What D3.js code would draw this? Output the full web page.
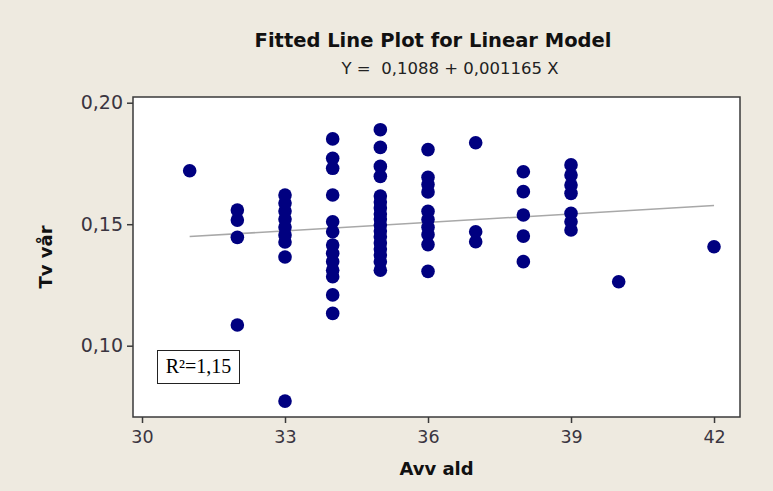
<!DOCTYPE html>
<html>
<head>
<meta charset="utf-8">
<script src="https://cdn.jsdelivr.net/npm/d3@7"></script>
<style>
  html, body { margin: 0; padding: 0; background: #EEEAE0; }
  svg { display: block; }
</style>
</head>
<body>
<script>
// ---- data ----
const avvAld = [
  31,
  32, 32, 32, 32,
  33, 33, 33, 33, 33, 33, 33, 33, 33,
  34, 34, 34, 34, 34, 34, 34, 34, 34, 34, 34, 34, 34,
  35, 35, 35, 35, 35, 35, 35, 35, 35, 35, 35, 35, 35, 35, 35, 35, 35,
  36, 36, 36, 36, 36, 36, 36, 36, 36, 36,
  37, 37, 37,
  38, 38, 38, 38, 38,
  39, 39, 39, 39, 39, 39, 39,
  40,
  42
];
const tvVar = [
  0.1720,
  0.1558, 0.1517, 0.1446, 0.1085,
  0.1620, 0.1587, 0.1554, 0.1521, 0.1488, 0.1456, 0.1427, 0.1365, 0.0772,
  0.1851, 0.1771, 0.1730, 0.1620, 0.1510, 0.1469, 0.1414, 0.1380, 0.1346, 0.1311, 0.1284, 0.1209, 0.1133,
  0.1889, 0.1816, 0.1738, 0.1697, 0.1616, 0.1591, 0.1567, 0.1542, 0.1521, 0.1497, 0.1472, 0.1448, 0.1423, 0.1398, 0.1373, 0.1345, 0.1311,
  0.1807, 0.1693, 0.1663, 0.1633, 0.1553, 0.1519, 0.1487, 0.1457, 0.1416, 0.1306,
  0.1835, 0.1469, 0.1428,
  0.1716, 0.1634, 0.1538, 0.1451, 0.1346,
  0.1744, 0.1702, 0.1661, 0.1627, 0.1545, 0.1510, 0.1476,
  0.1263,
  0.1407
];
const xTicks = [30, 33, 36, 39, 42];
const yTicks = [0.10, 0.15, 0.20];
const fitIntercept = 0.1088;
const fitSlope = 0.001165;
const fitRange = [31, 42];
const titleText = "Fitted Line Plot for Linear Model";
const subtitleText = "Y =  0,1088 + 0,001165 X";
const xTitle = "Avv ald";
const yTitle = "Tv vår";
const r2Text = "R²=1,15";

// ---- layout ----
const W = 773, H = 491;
const plot = { left: 133, right: 740, top: 97, bottom: 417 };
const comma = d3.formatLocale({ decimal: ",", thousands: ".", grouping: [3], currency: ["", ""] });

const svg = d3.select("body").append("svg").attr("width", W).attr("height", H);
svg.append("rect").attr("width", W).attr("height", H).attr("fill", "#EEEAE0");

const x = d3.scaleLinear().domain([29.811, 42.545]).range([plot.left, plot.right]);
const y = d3.scaleLinear().domain([0.07066, 0.20235]).range([plot.bottom, plot.top]);

// plot area
svg.append("rect")
  .attr("x", plot.left).attr("y", plot.top)
  .attr("width", plot.right - plot.left).attr("height", plot.bottom - plot.top)
  .attr("fill", "#FFFFFF");

// fitted line
svg.append("line")
  .attr("x1", x(fitRange[0])).attr("y1", y(fitIntercept + fitSlope * fitRange[0]))
  .attr("x2", x(fitRange[1])).attr("y2", y(fitIntercept + fitSlope * fitRange[1]))
  .attr("stroke", "#A8A8A8").attr("stroke-width", 1.5);

// points
svg.append("g").selectAll("circle")
  .data(d3.range(avvAld.length))
  .join("circle")
  .attr("cx", i => x(avvAld[i]))
  .attr("cy", i => y(tvVar[i]))
  .attr("r", 6.8)
  .attr("fill", "#000080");

// frame
svg.append("rect")
  .attr("x", plot.left).attr("y", plot.top)
  .attr("width", plot.right - plot.left).attr("height", plot.bottom - plot.top)
  .attr("fill", "none").attr("stroke", "#3a3a3a").attr("stroke-width", 1.5);

const tickFont = "'DejaVu Sans', Verdana, sans-serif";

// x axis
const xAxis = svg.append("g")
  .attr("transform", `translate(0,${plot.bottom})`)
  .call(d3.axisBottom(x).tickValues(xTicks).tickSize(6).tickPadding(8).tickFormat(d3.format("d")));
xAxis.select(".domain").remove();
xAxis.selectAll("line").attr("stroke", "#3a3a3a").attr("stroke-width", 1.5);
xAxis.selectAll("text").attr("font-family", tickFont).attr("font-size", 17.5).attr("fill", "#3a3540");

// y axis
const yAxis = svg.append("g")
  .attr("transform", `translate(${plot.left},0)`)
  .call(d3.axisLeft(y).tickValues(yTicks).tickSize(6).tickPadding(4).tickFormat(comma.format(".2f")));
yAxis.select(".domain").remove();
yAxis.selectAll("line").attr("stroke", "#3a3a3a").attr("stroke-width", 1.5);
yAxis.selectAll("text").attr("font-family", tickFont).attr("font-size", 19).attr("fill", "#3a3540");

// titles
svg.append("text")
  .attr("x", 433).attr("y", 47)
  .attr("text-anchor", "middle")
  .attr("font-family", tickFont).attr("font-weight", "bold").attr("font-size", 19.5)
  .attr("fill", "#111")
  .text(titleText);
svg.append("text")
  .attr("x", 450).attr("y", 74)
  .attr("text-anchor", "middle")
  .attr("font-family", tickFont).attr("font-size", 16.5)
  .attr("fill", "#222")
  .style("white-space", "pre")
  .text(subtitleText);

svg.append("text")
  .attr("x", (plot.left + plot.right) / 2).attr("y", 475)
  .attr("text-anchor", "middle")
  .attr("font-family", tickFont).attr("font-weight", "bold").attr("font-size", 18)
  .attr("fill", "#111")
  .text(xTitle);
svg.append("text")
  .attr("transform", `translate(52,${(plot.top + plot.bottom) / 2}) rotate(-90)`)
  .attr("text-anchor", "middle")
  .attr("font-family", tickFont).attr("font-weight", "bold").attr("font-size", 18)
  .attr("fill", "#111")
  .text(yTitle);

// R² box
svg.append("rect")
  .attr("x", 157.5).attr("y", 350.5).attr("width", 82).attr("height", 33)
  .attr("fill", "#FFFFFF").attr("stroke", "#222").attr("stroke-width", 1);
svg.append("text")
  .attr("x", 198.5).attr("y", 373)
  .attr("text-anchor", "middle")
  .attr("font-family", "'Liberation Serif', 'Times New Roman', serif").attr("font-size", 20)
  .attr("fill", "#000")
  .text(r2Text);
</script>
</body>
</html>
